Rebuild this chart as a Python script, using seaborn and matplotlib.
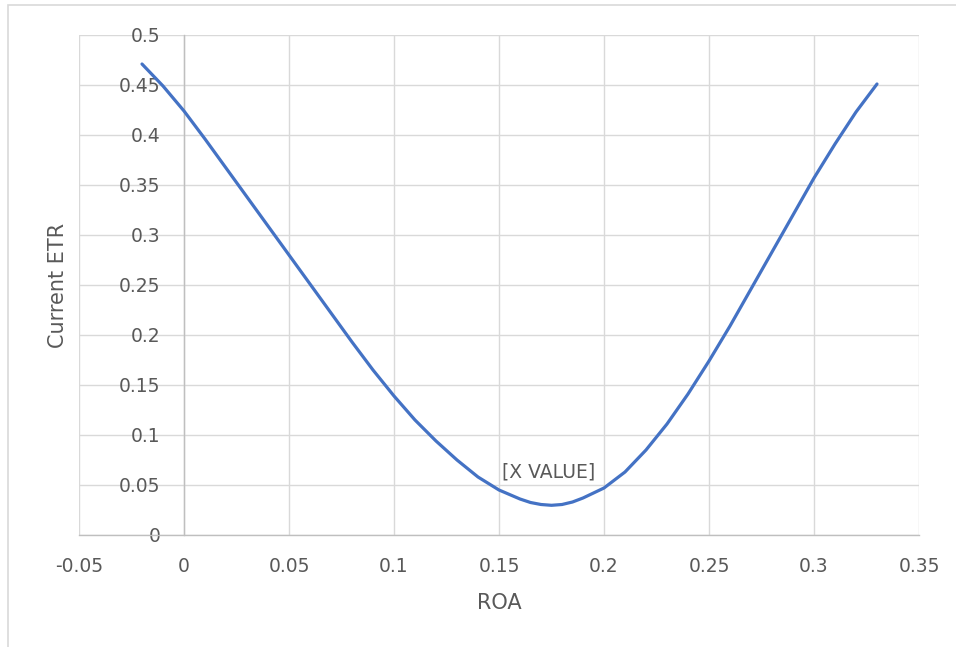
import matplotlib
matplotlib.use('Agg')
import matplotlib.pyplot as plt
import matplotlib.patches as mpatches
import seaborn as sns
import pandas as pd

# Values
roa = [-0.02, -0.01, 0.00, 0.01, 0.02, 0.03, 0.04, 0.05, 0.06, 0.07,
       0.08, 0.09, 0.10, 0.11, 0.12, 0.13, 0.14, 0.15, 0.16, 0.165, 0.17,
       0.175, 0.18, 0.185, 0.19, 0.20, 0.21, 0.22, 0.23, 0.24, 0.25, 0.26,
       0.27, 0.28, 0.29, 0.30, 0.31, 0.32, 0.33]
etr = [0.471, 0.449, 0.424, 0.396, 0.367, 0.338, 0.309, 0.280, 0.251, 0.222,
       0.193, 0.165, 0.139, 0.115, 0.094, 0.075, 0.058, 0.045, 0.036, 0.0325, 0.0305,
       0.0297, 0.0305, 0.033, 0.037, 0.047, 0.063, 0.085, 0.111, 0.141, 0.174, 0.209,
       0.246, 0.283, 0.320, 0.357, 0.391, 0.423, 0.451]
x_ticks = [-0.05, 0, 0.05, 0.1, 0.15, 0.2, 0.25, 0.3, 0.35]
y_ticks = [0, 0.05, 0.1, 0.15, 0.2, 0.25, 0.3, 0.35, 0.4, 0.45, 0.5]
min_label = '[X VALUE]'

LINE = '#4472C4'
GRID = '#D9D9D9'
AXIS = '#BFBFBF'
TEXT = '#595959'

sns.set_style('white')
plt.rcParams['font.family'] = ['DejaVu Sans']

df = pd.DataFrame({'ROA': roa, 'ETR': etr})

fig = plt.figure(figsize=(9.56, 6.47), dpi=100)
ax = fig.add_axes([79 / 956, 1 - 535 / 647, 840 / 956, 500 / 647])

sns.lineplot(data=df, x='ROA', y='ETR', sort=False, color=LINE,
             linewidth=2.3, ax=ax, zorder=3, solid_joinstyle='round',
             solid_capstyle='round')

ax.set_xlim(-0.05, 0.35)
ax.set_ylim(0, 0.5)
ax.set_xticks(x_ticks)
ax.set_yticks(y_ticks)
ax.set_xticklabels([f'{v:g}' for v in x_ticks])
ax.set_yticklabels([f'{v:g}' for v in y_ticks])
ax.grid(True, color=GRID, linewidth=1.0, zorder=0)
ax.set_axisbelow(True)

# axes cross at zero, like the Excel chart
ax.spines['left'].set_position(('data', 0))
ax.spines['bottom'].set_position(('data', 0))
for s in ['left', 'bottom']:
    ax.spines[s].set_color(AXIS)
    ax.spines[s].set_linewidth(1.0)
    ax.spines[s].set_zorder(1)
ax.spines['top'].set_visible(False)
ax.spines['right'].set_visible(False)
ax.tick_params(axis='y', length=0, pad=17, labelsize=13.5, colors=TEXT)
ax.tick_params(axis='x', length=0, pad=15.5, labelsize=13.5, colors=TEXT)
for lbl in ax.get_yticklabels():
    lbl.set_zorder(2)

ax.set_xlabel('ROA', fontsize=15, color=TEXT)
ax.set_ylabel('Current ETR', fontsize=15, color=TEXT)
ax.xaxis.label.set_va('center')
ax.yaxis.label.set_va('center')
ax.xaxis.set_label_coords(0.5, (535 - 603) / 500)
ax.yaxis.set_label_coords((58 - 79) / 840, 0.5)

# data label at the minimum point
i_min = etr.index(min(etr))
ax.annotate(min_label, (roa[i_min], etr[i_min]), xytext=(-3, 33),
            textcoords='offset pixels', ha='center', va='center',
            fontsize=13.5, color=TEXT, zorder=4)

# chart area border
fig.patches.append(mpatches.Rectangle((8 / 956, -0.1), 1.2, 1 - 5 / 647 + 0.1,
                                      transform=fig.transFigure, fill=False,
                                      edgecolor=GRID, linewidth=1.2))

fig.savefig('out.png', dpi=100, facecolor='white')
